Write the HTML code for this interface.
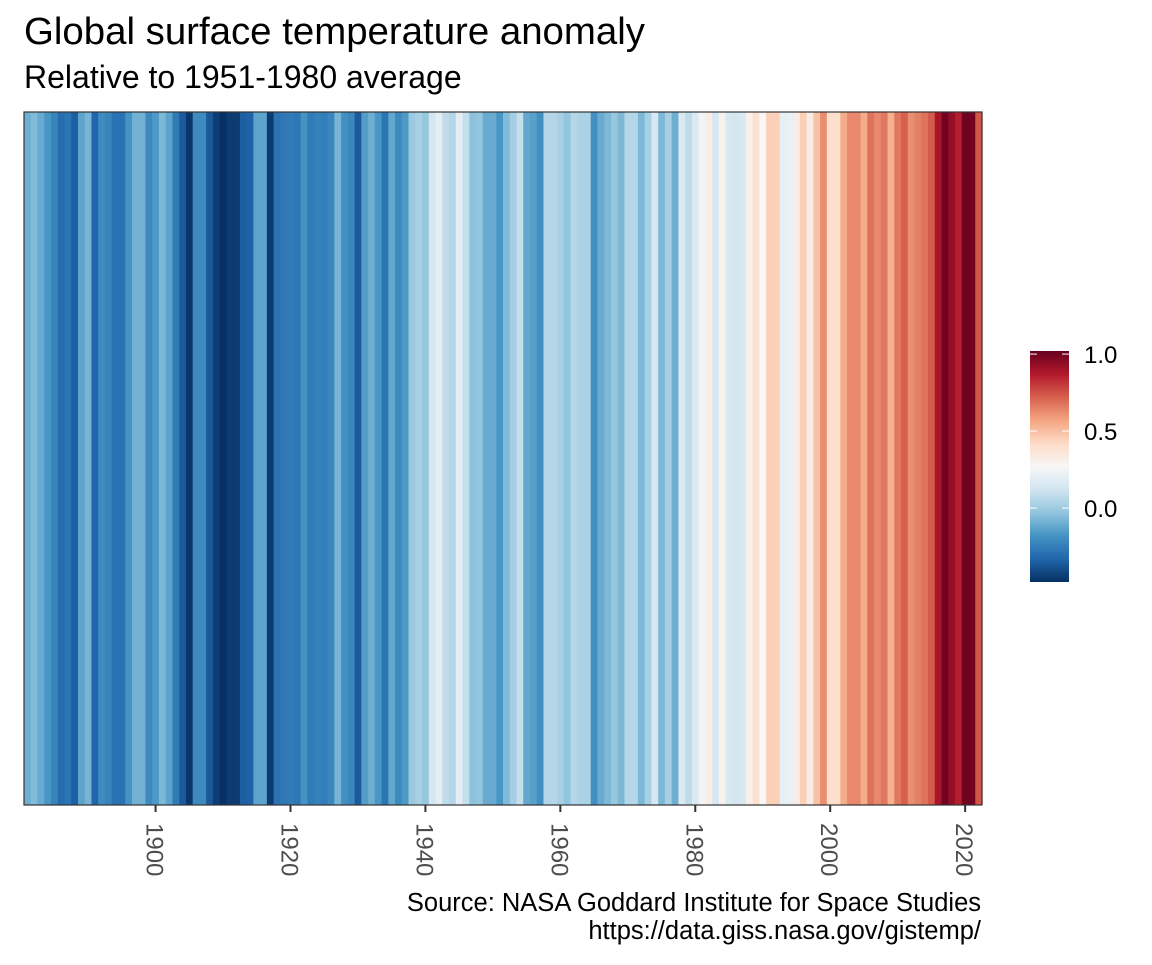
<!DOCTYPE html>
<html><head><meta charset="utf-8">
<style>
html,body{margin:0;padding:0;background:#fff;}
body{width:1152px;height:960px;overflow:hidden;font-family:"Liberation Sans",Arial,sans-serif;}
</style></head>
<body>
<svg id="chart" width="1152" height="960" xmlns="http://www.w3.org/2000/svg">
<defs>
<linearGradient id="cbgrad" x1="0" y1="1" x2="0" y2="0"></linearGradient>
</defs>
<text x="24" y="44" font-size="38.4" fill="#000">Global surface temperature anomaly</text>
<text x="24" y="88" font-size="32" fill="#000">Relative to 1951-1980 average</text>
<g id="stripes"></g>
<rect x="24" y="112" width="958" height="693" fill="none" stroke="#333" stroke-width="1.2"/>
<g id="xaxis"></g>
<g id="legend"></g>
<text x="981" y="911" font-size="25.5" text-anchor="end" fill="#000">Source: NASA Goddard Institute for Space Studies</text>
<text x="981" y="939" font-size="25.5" text-anchor="end" fill="#000">https://data.giss.nasa.gov/gistemp/</text>
</svg>
<script>
const startYear = 1881;
const anomalies = [
-0.10,-0.06,-0.11,-0.17,-0.23,-0.31,-0.28,-0.35,-0.13,-0.08,
-0.33,-0.20,-0.23,-0.29,-0.29,-0.18,-0.09,-0.09,-0.21,-0.16,
-0.07,-0.13,-0.26,-0.36,-0.46,-0.21,-0.21,-0.37,-0.44,-0.48,
-0.45,-0.45,-0.35,-0.34,-0.13,-0.13,
-0.45,-0.29,-0.27,-0.26,-0.27,-0.18,-0.26,-0.24,-0.25,-0.22,
-0.08,-0.19,-0.22,-0.36,-0.15,-0.10,-0.17,-0.28,-0.12,-0.21,
-0.16,-0.01,0.02,-0.02,0.13,0.19,0.08,0.05,0.19,0.09,
-0.04,-0.03,-0.11,-0.11,-0.17,-0.06,
0.01,0.09,-0.12,-0.14,-0.19,0.05,0.05,0.02,-0.03,0.05,
0.03,0.03,-0.19,-0.11,-0.07,-0.02,-0.07,0.05,0.05,-0.07,
0.02,0.14,-0.07,0.02,-0.10,0.16,0.08,0.16,0.25,0.33,
0.14,0.30,0.15,0.13,0.15,0.31,0.39,0.27,0.45,0.45,
0.20,0.22,0.33,0.45,0.33,0.49,0.62,0.40,0.40,0.55,
0.63,0.63,0.55,0.68,0.63,0.67,0.54,0.67,0.72,0.62,
0.65,0.68,0.73,0.89,1.00,0.93,0.86,1.00,1.00,0.74];
const tickYears = [1900,1920,1940,1960,1980,2000,2020];
const legendTicks = [0.0,0.5,1.0];
const legendLabels = ["0.0","0.5","1.0"];

const NS="http://www.w3.org/2000/svg";
const palette=["#053061","#2166ac","#4393c3","#92c5de","#d1e5f0","#f7f7f7","#fddbc7","#f4a582","#d6604d","#b2182b","#67001f"];
const vmin=Math.min(...anomalies), vmax=Math.max(...anomalies)+0.02;
function hex(h){return [1,3,5].map(i=>parseInt(h.substr(i,2),16));}
function colorFor(v){
  let t=(v-vmin)/(vmax-vmin); t=Math.max(0,Math.min(1,t));
  const p=t*(palette.length-1); const i=Math.min(Math.floor(p),palette.length-2); const f=p-i;
  const a=hex(palette[i]), b=hex(palette[i+1]);
  return "rgb("+a.map((c,k)=>Math.round(c+(b[k]-c)*f)).join(",")+")";
}
const x0=24,x1=982,y0=112,y1=805;
const yrMin=startYear-0.5, yrMax=startYear+anomalies.length-0.5;
function xScale(yr){return x0+(yr-yrMin)/(yrMax-yrMin)*(x1-x0);}
const sg=document.getElementById('stripes');
anomalies.forEach((v,i)=>{
  const yr=startYear+i;
  const r=document.createElementNS(NS,'rect');
  const a=xScale(yr-0.5), b=xScale(yr+0.5);
  r.setAttribute('x',a);r.setAttribute('y',y0);r.setAttribute('width',b-a+0.6);r.setAttribute('height',y1-y0);
  r.setAttribute('fill',colorFor(v));
  
  
  sg.appendChild(r);
});
const xg=document.getElementById('xaxis');
tickYears.forEach(yr=>{
  const x=xScale(yr);
  const l=document.createElementNS(NS,'line');
  l.setAttribute('x1',x);l.setAttribute('x2',x);l.setAttribute('y1',y1);l.setAttribute('y2',y1+7);
  l.setAttribute('stroke','#333');l.setAttribute('stroke-width','2');
  
  
  xg.appendChild(l);
  const t=document.createElementNS(NS,'text');
  t.setAttribute('transform','translate('+(x-9)+','+(y1+18)+') rotate(90)');
  t.setAttribute('font-size','24');t.setAttribute('fill','#4d4d4d');
  t.textContent=yr;
  
  
  xg.appendChild(t);
});
const lx=1030,lw=39,ly0=351,ly1=582;
function lyScale(v){return ly1-(v-vmin)/(vmax-vmin)*(ly1-ly0);}
const grad=document.getElementById('cbgrad');
for(let k=0;k<=40;k++){
  const st=document.createElementNS(NS,'stop');
  st.setAttribute('offset',(k/40*100)+'%');
  st.setAttribute('stop-color',colorFor(vmin+(vmax-vmin)*k/40));
  grad.appendChild(st);
}
const lg=document.getElementById('legend');
const bar=document.createElementNS(NS,'rect');
bar.setAttribute('x',lx);bar.setAttribute('y',ly0);bar.setAttribute('width',lw);bar.setAttribute('height',ly1-ly0);
bar.setAttribute('fill','url(#cbgrad)');


lg.appendChild(bar);
legendTicks.forEach((v,i)=>{
  const y=lyScale(v);
  [[lx,lx+7],[lx+lw-7,lx+lw]].forEach(seg=>{
    const l=document.createElementNS(NS,'line');
    l.setAttribute('x1',seg[0]);l.setAttribute('x2',seg[1]);l.setAttribute('y1',y);l.setAttribute('y2',y);
    l.setAttribute('stroke','#fff');l.setAttribute('stroke-width','1');
    
    
    lg.appendChild(l);
  });
  const t=document.createElementNS(NS,'text');
  t.setAttribute('x',1084);t.setAttribute('y',y+9);t.setAttribute('font-size','24');t.setAttribute('fill','#000');
  t.textContent=legendLabels[i];
  
  
  lg.appendChild(t);
});
</script>
</body></html>
